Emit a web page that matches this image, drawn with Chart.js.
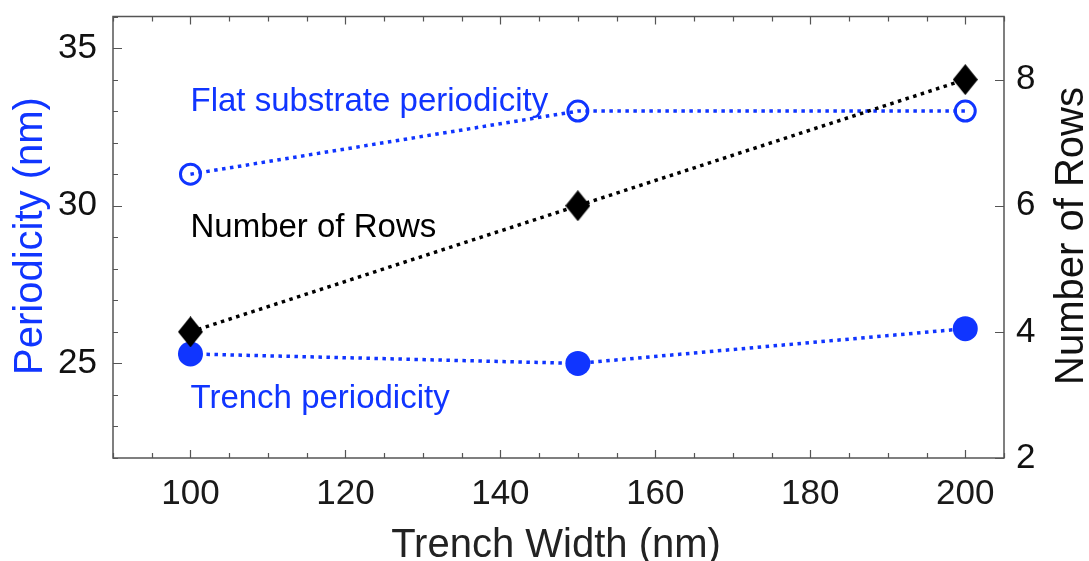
<!DOCTYPE html>
<html>
<head>
<meta charset="utf-8">
<script src="https://cdn.jsdelivr.net/npm/chart.js@4/dist/chart.umd.min.js"></script>
<style>
  html, body { margin: 0; padding: 0; background: #ffffff; }
  #wrap { width: 1089px; height: 561px; position: relative; }
</style>
</head>
<body>
<div id="wrap"><canvas id="c"></canvas></div>
<script>
// Measurements: trench width (nm) against periodicity (nm) and number of rows
const trenchWidths = [100, 150, 200];
const flatPeriodicity = [31, 33, 33];
const trenchPeriodicity = [25.3, 25.0, 26.1];
const numberOfRows = [4, 6, 8];

// Labelled tick values for each axis
const xTickValues = [100, 120, 140, 160, 180, 200];
const leftTickValues = [25, 30, 35];
const rightTickValues = [2, 4, 6, 8];

const BLUE = '#1035ff';
const FONT = '"Liberation Sans", Arial, Helvetica, sans-serif';

// In-plot series labels, positioned in data units (x, left axis)
const seriesLabels = [
  { text: 'Flat substrate periodicity', x: 100, y: 33, color: BLUE },
  { text: 'Number of Rows', x: 100, y: 29, color: '#000000' },
  { text: 'Trench periodicity', x: 100, y: 23.6, color: BLUE }
];

// Tall black diamond marker
function makeDiamond(w, h) {
  const cv = document.createElement('canvas');
  cv.width = w; cv.height = h;
  const g = cv.getContext('2d');
  g.fillStyle = '#000';
  g.beginPath();
  g.moveTo(w / 2, 0);
  g.lineTo(w, h / 2);
  g.lineTo(w / 2, h);
  g.lineTo(0, h / 2);
  g.closePath();
  g.fill();
  return cv;
}
const diamond = makeDiamond(25, 31);

const toPoints = (xs, ys) => xs.map((x, i) => ({ x, y: ys[i] }));

// Frame, inward ticks, axis titles and series labels
const framePlugin = {
  id: 'frame',
  afterDatasetsDraw(chart) {
    const { ctx, chartArea: a, scales } = chart;
    const x = scales.x, yl = scales.yL, yr = scales.yR;
    ctx.save();
    ctx.strokeStyle = '#555555';
    ctx.lineWidth = 1.5;
    ctx.strokeRect(a.left, a.top, a.right - a.left, a.bottom - a.top);

    ctx.lineWidth = 1.2;
    ctx.beginPath();
    // x ticks: bottom and top edges
    for (let v = 90; v <= 205; v += 5) {
      const px = Math.round(x.getPixelForValue(v)) + 0.5;
      const len = (v % 20 === 0) ? 8 : 5;
      ctx.moveTo(px, a.bottom); ctx.lineTo(px, a.bottom - len);
      ctx.moveTo(px, a.top); ctx.lineTo(px, a.top + len);
    }
    // left axis ticks
    for (let v = 22; v <= 36; v += 1) {
      const py = Math.round(yl.getPixelForValue(v)) + 0.5;
      const len = (v % 5 === 0) ? 9 : 5;
      ctx.moveTo(a.left, py); ctx.lineTo(a.left + len, py);
    }
    // right axis ticks
    rightTickValues.forEach(v => {
      const py = Math.round(yr.getPixelForValue(v)) + 0.5;
      ctx.moveTo(a.right, py); ctx.lineTo(a.right - 9, py);
    });
    ctx.stroke();

    // series labels
    ctx.font = '33px ' + FONT;
    ctx.textAlign = 'left';
    ctx.textBaseline = 'alphabetic';
    seriesLabels.forEach(l => {
      ctx.fillStyle = l.color;
      ctx.fillText(l.text, x.getPixelForValue(l.x), yl.getPixelForValue(l.y));
    });

    // axis titles
    ctx.font = '40px ' + FONT;
    ctx.textAlign = 'center';
    ctx.fillStyle = '#222222';
    ctx.fillText('Trench Width (nm)', 556, 557);

    ctx.save();
    ctx.translate(42, 236);
    ctx.rotate(-Math.PI / 2);
    ctx.fillStyle = BLUE;
    ctx.fillText('Periodicity (nm)', 0, 0);
    ctx.restore();

    ctx.save();
    ctx.translate(1083, 236);
    ctx.rotate(-Math.PI / 2);
    ctx.fillStyle = '#111111';
    ctx.fillText('Number of Rows', 0, 0);
    ctx.restore();

    ctx.restore();
  }
};

const fixTicks = values => scale => { scale.ticks = values.map(v => ({ value: v })); };
const fitBox = (w, h) => s => {
  if (w !== null) s.width = w;
  if (h !== null) s.height = h;
  s.paddingTop = 0; s.paddingBottom = 0; s.paddingLeft = 0; s.paddingRight = 0;
};

new Chart(document.getElementById('c'), {
  type: 'scatter',
  data: {
    datasets: [
      {
        label: 'Number of Rows',
        data: toPoints(trenchWidths, numberOfRows),
        yAxisID: 'yR',
        showLine: true,
        borderColor: '#000000',
        borderWidth: 3.5,
        borderDash: [3.5, 4.5],
        pointStyle: diamond,
        pointRadius: 13,
        order: 0
      },
      {
        label: 'Flat substrate periodicity',
        data: toPoints(trenchWidths, flatPeriodicity),
        yAxisID: 'yL',
        showLine: true,
        borderColor: BLUE,
        borderWidth: 3.5,
        borderDash: [3.5, 4.5],
        pointStyle: 'circle',
        pointRadius: 10,
        pointBorderWidth: 3,
        pointBorderColor: BLUE,
        pointBackgroundColor: 'rgba(0,0,0,0)',
        order: 1
      },
      {
        label: 'Trench periodicity',
        data: toPoints(trenchWidths, trenchPeriodicity),
        yAxisID: 'yL',
        showLine: true,
        borderColor: BLUE,
        borderWidth: 3.5,
        borderDash: [3.5, 4.5],
        pointStyle: 'circle',
        pointRadius: 12.5,
        pointBorderWidth: 0,
        pointBackgroundColor: BLUE,
        order: 2
      }
    ]
  },
  options: {
    responsive: true,
    maintainAspectRatio: false,
    animation: false,
    events: [],
    layout: { padding: { top: 12, left: 0, right: 0, bottom: 0 } },
    plugins: { legend: { display: false }, tooltip: { enabled: false } },
    elements: { line: { tension: 0, fill: false } },
    scales: {
      x: {
        type: 'linear',
        position: 'bottom',
        min: 90, max: 205,
        afterBuildTicks: fixTicks(xTickValues),
        afterFit: fitBox(null, 103),
        grid: { display: false },
        border: { display: false },
        ticks: { color: '#1a1a1a', font: { family: FONT, size: 35 }, padding: 7, maxRotation: 0 }
      },
      yL: {
        type: 'linear',
        position: 'left',
        min: 22, max: 36,
        afterBuildTicks: fixTicks(leftTickValues),
        afterFit: fitBox(113, null),
        grid: { display: false },
        border: { display: false },
        ticks: { color: '#111111', font: { family: FONT, size: 35 }, padding: 8 }
      },
      yR: {
        type: 'linear',
        position: 'right',
        min: 2, max: 9,
        afterBuildTicks: fixTicks(rightTickValues),
        afterFit: fitBox(85, null),
        grid: { display: false },
        border: { display: false },
        ticks: { color: '#111111', font: { family: FONT, size: 35 }, padding: 4 }
      }
    }
  },
  plugins: [framePlugin]
});
</script>
</body>
</html>
